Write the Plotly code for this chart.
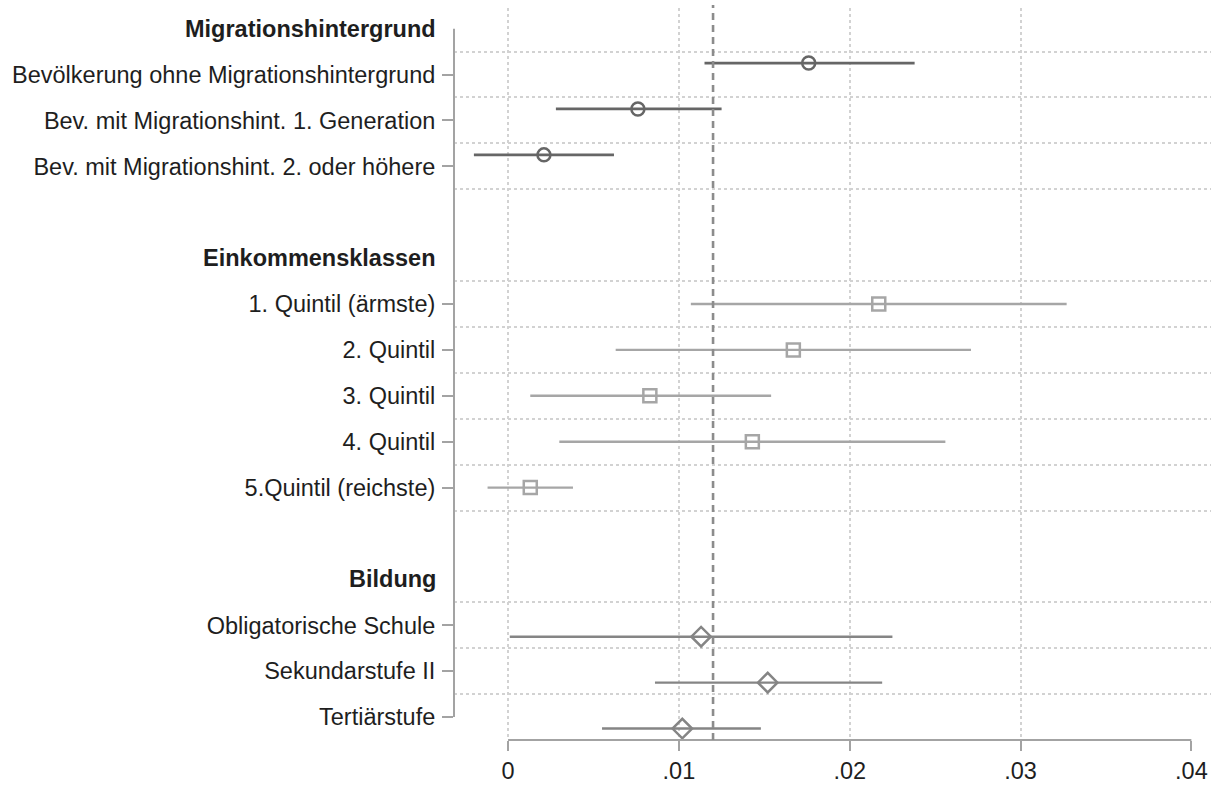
import plotly.graph_objects as go

# ---------------- data ----------------
mig_header = "Migrationshintergrund"
mig_labels = ["Bevölkerung ohne Migrationshintergrund",
              "Bev. mit Migrationshint. 1. Generation",
              "Bev. mit Migrationshint. 2. oder höhere"]
mig_est = [0.0176, 0.0076, 0.0021]
mig_lo = [0.0115, 0.0028, -0.0020]
mig_hi = [0.0238, 0.0125, 0.0062]

inc_header = "Einkommensklassen"
inc_labels = ["1. Quintil (ärmste)", "2. Quintil", "3. Quintil",
              "4. Quintil", "5.Quintil (reichste)"]
inc_est = [0.0217, 0.0167, 0.0083, 0.0143, 0.0013]
inc_lo = [0.0107, 0.0063, 0.0013, 0.0030, -0.0012]
inc_hi = [0.0327, 0.0271, 0.0154, 0.0256, 0.0038]

edu_header = "Bildung"
edu_labels = ["Obligatorische Schule", "Sekundarstufe II", "Tertiärstufe"]
edu_est = [0.0113, 0.0152, 0.0102]
edu_lo = [0.0001, 0.0086, 0.0055]
edu_hi = [0.0225, 0.0219, 0.0148]

ref_value = 0.012
x_ticks = [0, 0.01, 0.02, 0.03, 0.04]
x_ticktext = ["0", ".01", ".02", ".03", ".04"]

# ---------------- styling per group ----------------
groups = [
    dict(header=mig_header, labels=mig_labels, est=mig_est, lo=mig_lo, hi=mig_hi,
         color="#666666", symbol="circle-open", size=13, offset=-0.25, lw=2.8),
    dict(header=inc_header, labels=inc_labels, est=inc_est, lo=inc_lo, hi=inc_hi,
         color="#a6a6a6", symbol="square-open", size=13, offset=0.0, lw=2.4),
    dict(header=edu_header, labels=edu_labels, est=edu_est, lo=edu_lo, hi=edu_hi,
         color="#858585", symbol="diamond-open", size=15, offset=0.25, lw=2.4),
]

FONT = "Liberation Sans, Arial, sans-serif"
FS = 23.5
TXT = "#1e1e1e"
AX = "#a3a3a3"

fig = go.Figure()
slot = 0
tickvals, ticktext, grid_vals, header_slots = [], [], [], []
for gi, g in enumerate(groups):
    header_slots.append((slot, g["header"]))
    grid_vals.append(slot + 0.5)
    slot += 1
    ys = []
    for lab in g["labels"]:
        tickvals.append(slot)
        ticktext.append(lab)
        ys.append(slot + g["offset"])
        grid_vals.append(slot + 0.5)
        slot += 1
    if gi < len(groups) - 1:
        slot += 1  # blank row between groups
    err_plus = [h - e for h, e in zip(g["hi"], g["est"])]
    err_minus = [e - l for e, l in zip(g["est"], g["lo"])]
    fig.add_trace(go.Scatter(
        x=g["est"], y=ys, mode="markers",
        marker=dict(symbol=g["symbol"], size=g["size"], color=g["color"],
                    line=dict(width=2.5, color=g["color"])),
        error_x=dict(type="data", array=err_plus, arrayminus=err_minus,
                     symmetric=False, width=0, thickness=g["lw"], color=g["color"]),
        showlegend=False, hoverinfo="skip"))

last_slot = tickvals[-1]
grid_vals = [v for v in grid_vals if v < last_slot]

# group headers
for s, h in header_slots:
    fig.add_annotation(x=0, xref="paper", y=s, yref="y", text="<b>%s</b>" % h,
                       showarrow=False, xanchor="right", yanchor="middle",
                       xshift=-16, font=dict(family=FONT, size=FS, color=TXT))

# y axis line spanning first header to last row
fig.add_shape(type="line", xref="paper", yref="y", x0=0, x1=0, y0=0, y1=last_slot,
              line=dict(color=AX, width=2))
# x axis line spanning the tick range
fig.add_shape(type="line", xref="x", yref="paper", x0=x_ticks[0], x1=x_ticks[-1],
              y0=0, y1=0, line=dict(color=AX, width=2))
# reference line
fig.add_shape(type="line", xref="x", yref="paper", x0=ref_value, x1=ref_value,
              y0=0, y1=1.004, line=dict(color="#8c8c8c", width=2.6, dash="7px,5px"))

fig.update_layout(
    width=1211, height=785, autosize=False,
    margin=dict(l=454, r=0, t=8, b=45),
    plot_bgcolor="white", paper_bgcolor="white",
    font=dict(family=FONT, size=FS, color=TXT),
    xaxis=dict(range=[-0.003165, 0.04115], tickvals=x_ticks, ticktext=x_ticktext,
               ticks="outside", ticklen=10, tickwidth=2, tickcolor=AX,
               showgrid=False, zeroline=False, showline=False,
               tickfont=dict(family=FONT, size=FS, color=TXT),
               minor=dict(tickvals=x_ticks[:-1], showgrid=True, gridcolor="#d2d2d2",
                          griddash="dot", gridwidth=1.5, ticks="")),
    yaxis=dict(range=[15.5, -0.45], tickvals=tickvals, ticktext=ticktext,
               ticks="outside", ticklen=11, tickwidth=2, tickcolor=AX,
               ticklabelstandoff=2,
               showgrid=False, zeroline=False, showline=False,
               tickfont=dict(family=FONT, size=FS, color=TXT),
               minor=dict(tickvals=grid_vals, showgrid=True, gridcolor="#d2d2d2",
                          griddash="dot", gridwidth=1.5, ticks="")),
)

fig.write_html("out.html",
               config={"displayModeBar": False},
               post_script="document.body.style.margin='0';"
                           "document.body.style.overflow='hidden';")
